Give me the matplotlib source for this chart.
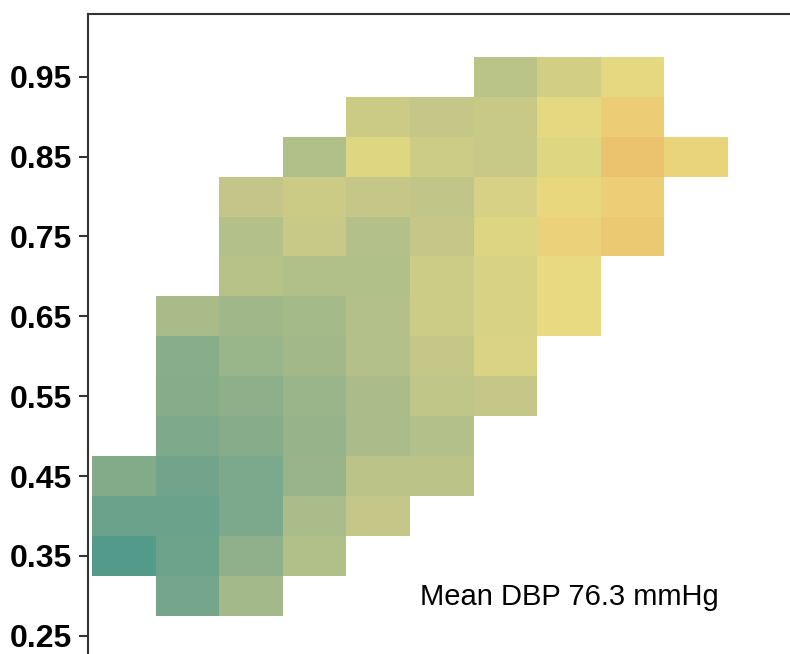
"""
Tile heatmap of mean diastolic blood pressure (DBP) across binned groups.
"""
import numpy as np
import matplotlib
matplotlib.use("Agg")
import matplotlib.pyplot as plt
from matplotlib.colors import LinearSegmentedColormap, Normalize

plt.rcParams["font.family"] = ["Liberation Sans", "DejaVu Sans"]

# ----------------- data ------------------------------------------------------
# tile rows (y centres) from top to bottom, columns are x bins 0..9
y_centres = [0.95, 0.90, 0.85, 0.80, 0.75, 0.70, 0.65,
             0.60, 0.55, 0.50, 0.45, 0.40, 0.35, 0.30]
x_bins = list(range(10))
nan = np.nan

# mean DBP (mmHg) per tile, NaN where the tile is empty
dbp_095 = [nan, nan, nan, nan, nan, nan, 77.2, 79.5, 81.6, nan]
dbp_090 = [nan, nan, nan, nan, 78.8, 78.0, 78.4, 81.6, 84.3, nan]
dbp_085 = [nan, nan, nan, 76.5, 81.0, 79.0, 78.4, 81.0, 86.0, 83.0]
dbp_080 = [nan, nan, 77.9, 78.8, 78.0, 77.8, 80.0, 82.5, 84.0, nan]
dbp_075 = [nan, nan, 76.8, 78.4, 76.8, 78.0, 80.8, 83.3, 85.0, nan]
dbp_070 = [nan, nan, 77.0, 76.5, 76.5, 79.0, 80.2, 82.0, nan, nan]
dbp_065 = [nan, 75.9, 75.3, 75.6, 76.8, 79.0, 80.2, 82.0, nan, nan]
dbp_060 = [nan, 73.5, 74.8, 75.4, 76.8, 78.0, 80.4, nan, nan, nan]
dbp_055 = [nan, 73.4, 73.9, 74.9, 76.1, 77.7, 78.0, nan, nan, nan]
dbp_050 = [nan, 72.9, 73.4, 74.5, 76.0, 76.8, nan, nan, nan, nan]
dbp_045 = [73.2, 72.0, 72.7, 74.7, 77.3, 77.3, nan, nan, nan, nan]
dbp_040 = [71.5, 71.5, 72.7, 76.0, 78.1, nan, nan, nan, nan, nan]
dbp_035 = [70.1, 71.7, 74.0, 76.5, nan, nan, nan, nan, nan, nan]
dbp_030 = [nan, 72.2, 75.5, nan, nan, nan, nan, nan, nan, nan]

y_ticks = [0.25, 0.35, 0.45, 0.55, 0.65, 0.75, 0.85, 0.95]
mean_dbp = 76.3

# ----------------- style -----------------------------------------------------
PALETTE = ["#529a8a", "#72a48b", "#8fb08a", "#aabc89", "#c4c788",
           "#d6d184", "#e8da80", "#ecce77", "#ebc26d"]
cmap = LinearSegmentedColormap.from_list("dbp", PALETTE)
norm = Normalize(vmin=70, vmax=86)


def main():
    grid = np.array([dbp_095, dbp_090, dbp_085, dbp_080, dbp_075, dbp_070,
                     dbp_065, dbp_060, dbp_055, dbp_050, dbp_045, dbp_040,
                     dbp_035, dbp_030])
    grid = np.ma.masked_invalid(grid[::-1])
    yc = np.array(y_centres[::-1])
    xc = np.array(x_bins, dtype=float)
    x_edges = np.append(xc - 0.5, xc[-1] + 0.5)
    y_edges = np.append(yc - 0.025, yc[-1] + 0.025)

    fig = plt.figure(figsize=(7.9, 6.54), dpi=100)
    # the panel runs past the right and bottom edges of the canvas
    ax = fig.add_axes([88 / 790, 1 - 700 / 654, 772 / 790, 686 / 654])

    ax.pcolormesh(x_edges, y_edges, grid, cmap=cmap, norm=norm,
                  edgecolors="none", antialiased=False)

    ax.set_xlim(-0.563, 11.575)
    ax.set_ylim(0.1696, 1.0286)
    ax.set_yticks(y_ticks, [f"{t:.2f}" for t in y_ticks])
    ax.set_xticks([])
    ax.tick_params(axis="y", length=6.5, width=1.5, pad=5, color="#333333",
                   labelsize=23)
    for lab in ax.get_yticklabels():
        lab.set_fontweight("bold")
    for sp in ax.spines.values():
        sp.set_color("#333333")
        sp.set_linewidth(1.5)

    ax.text(7.0, 0.299, f"Mean DBP {mean_dbp} mmHg", ha="center",
            va="center", fontsize=21)

    fig.savefig("out.png", dpi=100)


if __name__ == "__main__":
    main()
